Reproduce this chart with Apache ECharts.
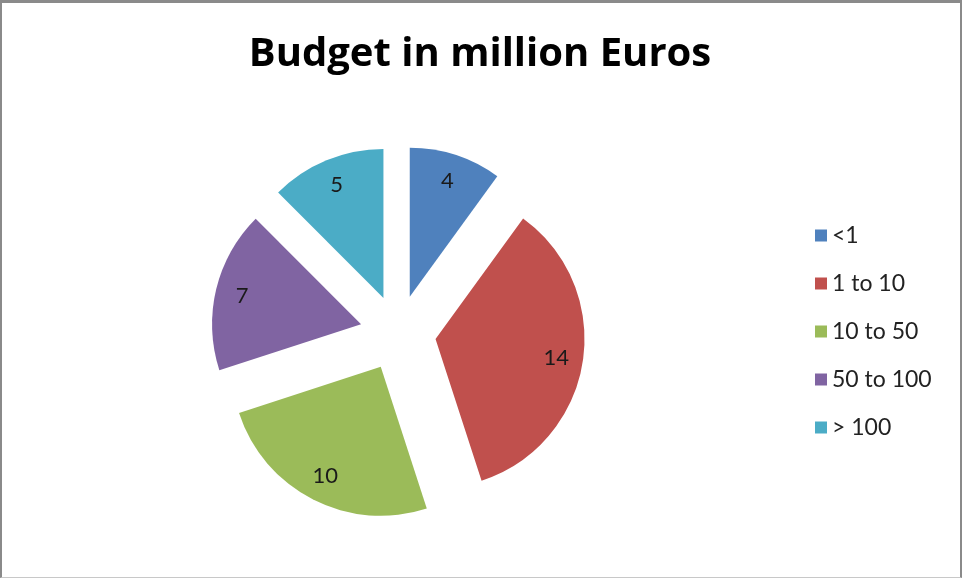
<!DOCTYPE html>
<html>
<head>
<meta charset="utf-8">
<script src="https://cdn.jsdelivr.net/npm/echarts@6/dist/echarts.min.js"></script>
<style>
  html, body { margin: 0; padding: 0; background: #fff; }
  #chart {
    width: 962px; height: 578px; box-sizing: border-box;
    border-style: solid; border-color: #8a8a8a #8a8a8a #c8c8c8 #8a8a8a;
    border-width: 3px 2px 1px 2px;
  }
</style>
</head>
<body>
<div id="chart"></div>
<script>
// Budget brackets and number of projects in each
const categories = ['<1', '1 to 10', '10 to 50', '50 to 100', '> 100'];
const values = [4, 14, 10, 7, 5];
const colors = ['#4F81BD', '#C0504D', '#9BBB59', '#8064A2', '#4BACC6'];

const chart = echarts.init(document.getElementById('chart'));

const center = [396, 330];
const radius = 149;
const explode = 38;

const slices = categories.map((name, i) => ({ name, value: values[i], selected: true }));

chart.setOption({
  animation: false,
  color: colors,
  title: {
    text: 'Budget in million Euros',
    left: 473, top: 27, textAlign: 'center',
    textStyle: { fontFamily: 'Open Sans', fontWeight: 'bold', fontSize: 40, color: '#000' }
  },
  legend: {
    orient: 'vertical',
    left: 808, top: 216,
    itemWidth: 12, itemHeight: 12, itemGap: 25,
    icon: 'rect',
    selectedMode: false,
    textStyle: { fontFamily: 'Lato', fontSize: 23, lineHeight: 23, color: '#222' },
    data: categories
  },
  series: [
    {
      // the exploded wedges
      type: 'pie',
      center, radius,
      selectedMode: 'multiple',
      selectedOffset: explode,
      startAngle: 90,
      clockwise: true,
      silent: true,
      emphasis: { disabled: true },
      label: { show: false },
      labelLine: { show: false },
      data: slices
    },
    {
      // value labels, placed along the outer part of each wedge
      type: 'pie',
      center, radius: [0, radius * 1.6],
      selectedMode: 'multiple',
      selectedOffset: explode,
      startAngle: 90,
      clockwise: true,
      silent: true,
      emphasis: { disabled: true },
      itemStyle: { color: 'rgba(0,0,0,0)' },
      label: {
        show: true, position: 'inside', formatter: '{c}',
        fontFamily: 'Lato', fontSize: 22, color: '#1a1a1a'
      },
      labelLine: { show: false },
      data: slices
    }
  ]
});
</script>
</body>
</html>
